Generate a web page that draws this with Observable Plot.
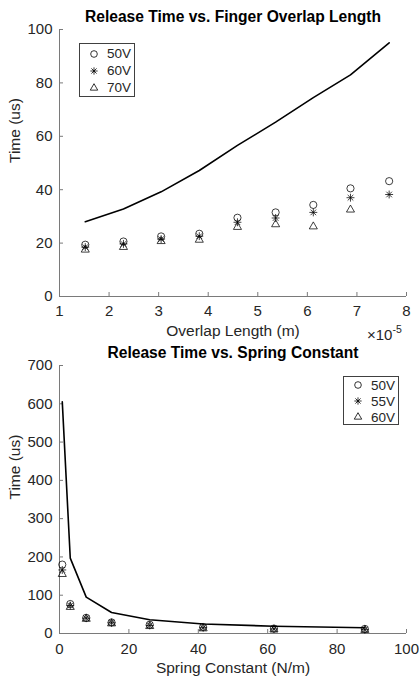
<!DOCTYPE html>
<html><head><meta charset="utf-8">
<script src="https://cdn.jsdelivr.net/npm/d3@7"></script>
<script src="https://cdn.jsdelivr.net/npm/@observablehq/plot@0.6"></script>
<style>
body{margin:0;background:#fff;font-family:"Liberation Sans",Arial,Helvetica,sans-serif;}
#wrap{position:relative;width:419px;height:681px;overflow:hidden;}
#wrap svg{display:block;}
.legend{position:absolute;border:1px solid #404040;background:#fff;font-size:13.5px;color:#262626;box-sizing:border-box;padding:0 0 0 7px;}
.legend .row{display:flex;align-items:center;}
.legend svg{width:14px;height:14px;margin-right:6px;overflow:visible;}
.exp{position:absolute;font-size:15px;color:#262626;white-space:nowrap;}
.exp sup{font-size:10.5px;position:relative;top:-1px;}
</style></head><body><div id="wrap"></div>
<script>
// ---------- Top chart data ----------
const topTitle = "Release Time vs. Finger Overlap Length";
const topXLabel = "Overlap Length (m)";
const topYLabel = "Time (us)";
const overlapLength = [1.52e-5, 2.29e-5, 3.05e-5, 3.82e-5, 4.59e-5, 5.36e-5, 6.12e-5, 6.87e-5, 7.65e-5];
const topModel = [28, 32.8, 39.2, 47.2, 56.6, 65.3, 74.5, 83, 95];
const top50V = [19.4, 20.6, 22.5, 23.5, 29.5, 31.5, 34.3, 40.5, 43.2];
const top60V = [18.5, 19.7, 21.5, 22.6, 27.8, 29.4, 31.5, 37.0, 38.2];
const top70V = [17.5, 18.5, 20.7, 21.2, 26.0, 27.0, 26.2, 32.5];
const topSeries = ["50V", "60V", "70V"];
const topXTicks = [1e-5, 2e-5, 3e-5, 4e-5, 5e-5, 6e-5, 7e-5, 8e-5];
const topYTicks = [0, 20, 40, 60, 80, 100];

// ---------- Bottom chart data ----------
const botTitle = "Release Time vs. Spring Constant";
const botXLabel = "Spring Constant (N/m)";
const botYLabel = "Time (us)";
const springConstant = [0.8, 3.1, 7.7, 15, 26, 41.4, 61.8, 88];
const botModel = [605, 197, 95, 55, 36, 25, 19, 15];
const bot50V = [180, 77, 41, 29, 23, 17, 13, 12];
const bot55V = [166, 73, 40, 28, 21, 15, 12, 10];
const bot60V = [155, 69, 38, 26, 19, 13, 10, 9];
const botSeries = ["50V", "55V", "60V"];
const botXTicks = [0, 20, 40, 60, 80, 100];
const botYTicks = [0, 100, 200, 300, 400, 500, 600, 700];

// ---------- styling ----------
const FONT = "Liberation Sans, Arial, Helvetica, sans-serif";
const TXT = "#262626";
const AXC = "#7a7a7a";
const star8 = {draw(ctx, size) {
  const r = Math.sqrt(size / Math.PI) * 1.1, d = r * Math.SQRT1_2;
  ctx.moveTo(0, -r); ctx.lineTo(0, r);
  ctx.moveTo(-r, 0); ctx.lineTo(r, 0);
  ctx.moveTo(-d, -d); ctx.lineTo(d, d);
  ctx.moveTo(-d, d); ctx.lineTo(d, -d);
}};
const symbols = ["circle", star8, "triangle"];
const radii = [3.6, 3.6, 3.0];

function points(xs, ys, k) {
  return ys.map((y, i) => ({x: xs[i], y, k}));
}

function chart({title, xLabel, yLabel, xs, model, series, seriesNames, xDomain, yDomain, xTicks, yTicks, xFmt, height, marginTop, marginBottom, xPad}) {
  const pointMarks = series.map((ys, j) => Plot.dot(points(xs, ys, seriesNames[j]), {
    x: "x", y: "y", symbol: () => symbols[j], r: radii[j], stroke: "#000", fill: "none", strokeWidth: 0.75
  }));
  return Plot.plot({
    width: 419, height, marginLeft: 59, marginRight: 13, marginTop, marginBottom,
    style: {fontFamily: FONT, fontSize: "15px", color: TXT, background: "#fff", overflow: "visible"},
    x: {domain: xDomain, label: null},
    y: {domain: yDomain, label: null},
    symbol: {type: "identity"},
    marks: [
      Plot.ruleX([xDomain[0]], {stroke: AXC, strokeWidth: 1}),
      Plot.ruleY([yDomain[0]], {stroke: AXC, strokeWidth: 1}),
      Plot.axisX({ticks: xTicks, tickFormat: xFmt, tickSize: -4, tickPadding: xPad, stroke: AXC, fill: TXT, fontSize: 15, label: null}),
      Plot.axisY({ticks: yTicks, tickSize: -4, tickPadding: 11, stroke: AXC, fill: TXT, fontSize: 15, label: null}),
      Plot.line(xs.map((x, i) => ({x, y: model[i]})), {x: "x", y: "y", stroke: "#000", strokeWidth: 1.6}),
      ...pointMarks,
      Plot.text([title], {text: d => d, frameAnchor: "top", lineAnchor: "bottom", dy: -8, fontWeight: "bold", fontSize: 15.6, fill: "#000"}),
      Plot.text([xLabel], {text: d => d, frameAnchor: "bottom", lineAnchor: "middle", dy: 35, fontSize: 15.5, fill: TXT}),
      Plot.text([yLabel], {text: d => d, frameAnchor: "left", lineAnchor: "middle", rotate: -90, dx: -44, fontSize: 15.5, fill: TXT})
    ]
  });
}

const wrap = document.getElementById("wrap");
wrap.appendChild(chart({
  title: topTitle, xLabel: topXLabel, yLabel: topYLabel, xs: overlapLength, model: topModel,
  series: [top50V, top60V, top70V], seriesNames: topSeries,
  xDomain: [1e-5, 8e-5], yDomain: [0, 100], xTicks: topXTicks, yTicks: topYTicks,
  xFmt: d => String(Math.round(d * 1e5)), height: 340, marginTop: 29, marginBottom: 44, xPad: 13
}));
wrap.appendChild(chart({
  title: botTitle, xLabel: botXLabel, yLabel: botYLabel, xs: springConstant, model: botModel,
  series: [bot50V, bot55V, bot60V], seriesNames: botSeries,
  xDomain: [0, 100], yDomain: [0, 700], xTicks: botXTicks, yTicks: botYTicks,
  xFmt: d => String(d), height: 341, marginTop: 25, marginBottom: 48, xPad: 14
}));

// exponent label
const exp = document.createElement("div");
exp.className = "exp";
exp.innerHTML = "\u00d710<sup>-5</sup>";
exp.style.left = "367px"; exp.style.top = "324px";
wrap.appendChild(exp);

// legends
function legendBox(names, left, top, width, height, padTop, rowH) {
  const box = document.createElement("div");
  box.className = "legend";
  Object.assign(box.style, {left: left + "px", top: top + "px", width: width + "px", height: height + "px", paddingTop: padTop + "px"});
  names.forEach((n, j) => {
    const row = document.createElement("div");
    row.className = "row";
    row.style.height = rowH + "px";
    const s = d3.create("svg").attr("viewBox", "-7 -7 14 14");
    const sym = typeof symbols[j] === "string" ? (symbols[j] === "circle" ? d3.symbolCircle : d3.symbolTriangle) : symbols[j];
    s.append("path").attr("d", d3.symbol(sym, Math.PI * radii[j] * radii[j] * 0.85)())
      .attr("fill", "none").attr("stroke", "#000").attr("stroke-width", 0.8);
    row.appendChild(s.node());
    const t = document.createElement("span");
    t.textContent = n;
    row.appendChild(t);
    box.appendChild(row);
  });
  wrap.appendChild(box);
}
legendBox(topSeries, 79, 43, 56, 54, 1, 17);
legendBox(botSeries, 343, 376, 56, 49, 0, 16);
</script>
</body></html>
